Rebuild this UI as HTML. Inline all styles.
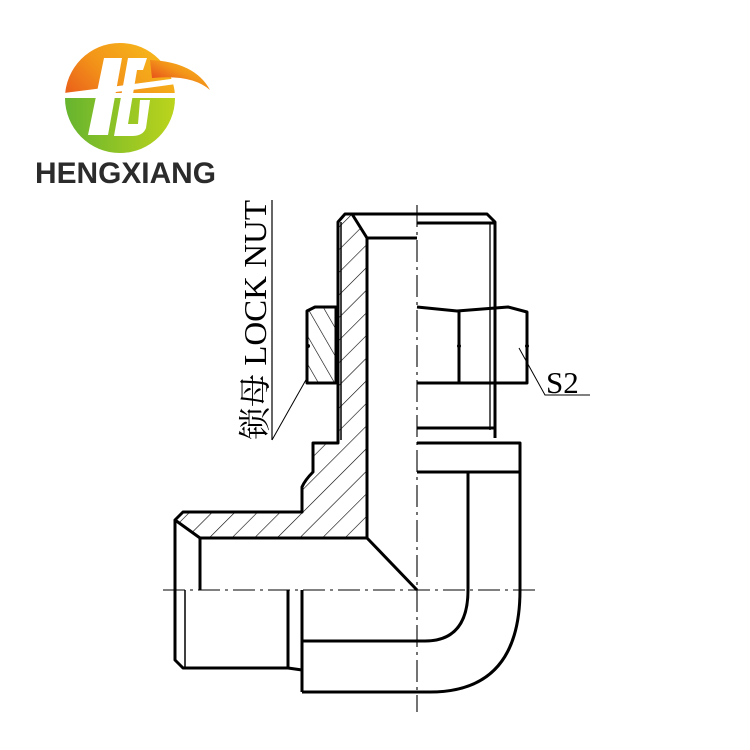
<!DOCTYPE html>
<html><head><meta charset="utf-8"><style>
html,body{margin:0;padding:0;background:#fff;}
svg{display:block;}
</style></head><body>
<svg width="750" height="750" viewBox="0 0 750 750" xmlns="http://www.w3.org/2000/svg">
<defs>
<linearGradient id="gtop" x1="0" y1="1" x2="1" y2="0">
<stop offset="0" stop-color="#e02a1c"/><stop offset="0.55" stop-color="#f39419"/><stop offset="1" stop-color="#f7c21c"/>
</linearGradient>
<linearGradient id="gbot" x1="0" y1="0" x2="1" y2="0">
<stop offset="0" stop-color="#66b42f"/><stop offset="1" stop-color="#bcd41c"/>
</linearGradient>
<pattern id="h1" patternUnits="userSpaceOnUse" width="16" height="16" patternTransform="rotate(45)">
<line x1="0" y1="0" x2="0" y2="16" stroke="#000" stroke-width="1.2"/>
</pattern>
<pattern id="h2" patternUnits="userSpaceOnUse" width="14" height="14" patternTransform="rotate(-30)">
<line x1="0" y1="0" x2="0" y2="14" stroke="#000" stroke-width="1.2"/>
</pattern>
<clipPath id="ctop"><rect x="0" y="0" width="750" height="93"/></clipPath>
<clipPath id="cbot"><rect x="0" y="98" width="750" height="100"/></clipPath>
</defs>

<!-- logo -->
<circle cx="120" cy="98" r="55" fill="url(#gtop)" clip-path="url(#ctop)"/>
<circle cx="120" cy="98" r="55" fill="url(#gbot)" clip-path="url(#cbot)"/>
<path d="M150 60 Q195 62 210 90 Q192 74 152 78 Z" fill="url(#gtop)"/>
<path d="M64 93 Q120 86 178 78 L176 84 Q120 92 64 98 Z" fill="#fff"/>
<path d="M104 58 L122 58 L108 135 L88 135 Z" fill="#fff"/>
<path d="M128 58 L147 58 L143 70 L137 70 L128 124 L138 124 L140 100 L150 100 L146 128 Q143 136 132 136 L114 136 Z" fill="#fff"/>
<text x="35" y="183" font-family="Liberation Sans, sans-serif" font-weight="bold" font-size="30" fill="#2b2b2b" textLength="181" lengthAdjust="spacingAndGlyphs">HENGXIANG</text>

<!-- label -->
<text transform="translate(266,440) rotate(-90)" font-family="Liberation Serif, 'Noto Serif CJK SC', serif" font-size="32" fill="#000" textLength="240" lengthAdjust="spacingAndGlyphs">锁母 LOCK NUT</text>
<line x1="272" y1="200" x2="272" y2="440" stroke="#000" stroke-width="1.2"/>
<line x1="272" y1="440" x2="307" y2="378" stroke="#000" stroke-width="1"/>

<g fill="none" stroke="#000" stroke-width="3" stroke-linejoin="round">
<path d="M338 222 L345 214 L352 214 L367 238 L367 538 L200 538 L175 520 L183 512 L302 512 L302 487 Q305 480 313 472 L313 443 L338 443 Z" fill="url(#h1)"/>
<path d="M307 311 L315 307 L336 307 L336 383 L307 383 Z" fill="url(#h2)"/>
<line x1="341" y1="222" x2="341" y2="440" stroke-width="1.5"/>
<path d="M345 214 L487 214 L495 222 L495 438"/>
<line x1="367" y1="238" x2="417" y2="238"/>
<line x1="417" y1="223" x2="495" y2="223"/>
<line x1="490" y1="223" x2="490" y2="430" stroke-width="1.3"/>
<line x1="417" y1="428" x2="495" y2="428"/>
<path d="M417 307 L457 311 L508 307 L527 312 L527 383 L417 383"/>
<line x1="459" y1="311" x2="459" y2="383"/>
<path d="M417 443 L520 443 L520 472 L417 472"/>
<path d="M175 520 L175 660 L183 668 L288 668 L302 670"/>
<line x1="200" y1="538" x2="200" y2="590"/>
<line x1="185" y1="590" x2="185" y2="668" stroke-width="1.5"/>
<line x1="288" y1="590" x2="288" y2="668"/>
<line x1="367" y1="538" x2="417" y2="590"/>
<line x1="302" y1="590" x2="302" y2="692"/>
<path d="M468 472 L468 590 Q468 641 425 641 L302 641"/>
<path d="M520 472 L520 590 Q520 692 430 692 L302 692"/>
</g>
<circle cx="459" cy="346" r="2"/><circle cx="527" cy="346" r="2"/><circle cx="308" cy="346" r="2"/>
<g stroke="#000" stroke-width="1.1" stroke-dasharray="22,5,3,5">
<line x1="417" y1="205" x2="417" y2="712"/>
<line x1="163" y1="590" x2="537" y2="590"/>
</g>
<polyline points="519,348 545,395 590,395" fill="none" stroke="#000" stroke-width="1"/>
<text x="546" y="393" font-family="Liberation Serif, serif" font-size="31" fill="#000">S2</text>
</svg>
</body></html>
